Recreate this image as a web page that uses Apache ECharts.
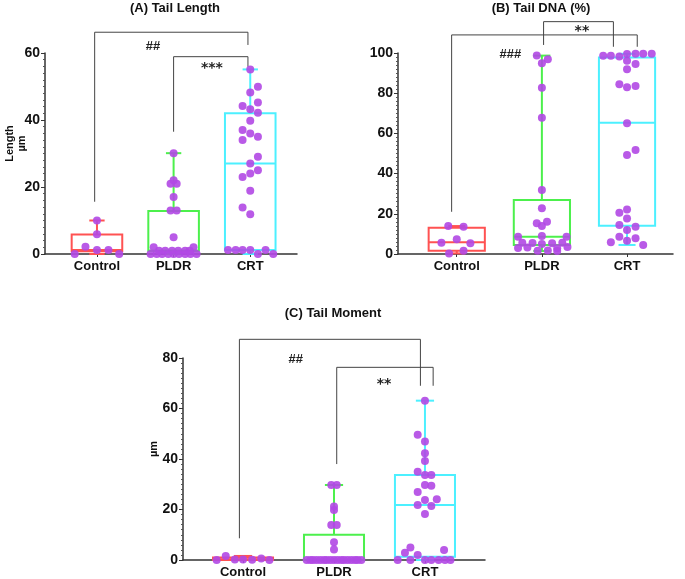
<!DOCTYPE html>
<html>
<head>
<meta charset="utf-8">
<script src="https://cdn.jsdelivr.net/npm/echarts@6/dist/echarts.min.js"></script>
<style>
  html, body { margin: 0; padding: 0; background: #fff; }
  #chart { width: 685px; height: 579px; }
</style>
</head>
<body>
<div id="chart"></div>
<script>
const groups = ['Control', 'PLDR', 'CRT'];
const boxColors = ['#ff5252', '#4cf04c', '#4cf0ff'];
const dotColor = '#b148e4';
const FONT = '"Liberation Sans", Arial, sans-serif';

// points: [horizontal spread inside the group, value]
const lengthControl = [[0, 10], [0, 5.9], [-0.15, 2.2], [0, 1.2], [0.15, 1.2], [-0.29, 0], [0.29, 0]];
const lengthPLDR = [[0, 30.1], [0, 22], [-0.04, 21], [0.04, 21], [0, 17], [-0.04, 13], [0.04, 13], [0, 5],
  [-0.26, 2], [0.26, 2], [-0.19, 1], [-0.11, 1], [-0.02, 1], [0.06, 1], [0.15, 1], [0.21, 1],
  [-0.3, 0], [-0.22, 0], [-0.15, 0], [-0.07, 0], [0, 0], [0.07, 0], [0.15, 0], [0.22, 0], [0.3, 0]];
const lengthCRT = [[0, 55.1], [0.1, 49.9], [0, 48.2], [-0.1, 44.2], [0, 43.2], [0.1, 45.2], [0.1, 42.2],
  [0, 39.8], [-0.1, 37], [0, 36], [-0.1, 34], [0.1, 35], [0.1, 29], [0, 27], [-0.1, 23], [0, 24], [0.1, 25],
  [0, 18.9], [-0.1, 13.9], [0, 11.9], [-0.29, 1.2], [-0.19, 1.2], [-0.1, 1.2], [0, 1.2], [0.2, 1.2], [0.1, 0], [0.3, 0]];

const dnaControl = [[-0.1, 13.9], [0.08, 13.6], [-0.18, 5.6], [0, 7.3], [0.16, 5.3], [-0.09, 0.3], [0.08, 1.6]];
const dnaPLDR = [[-0.06, 98.7], [0.07, 96.9], [0, 94.9], [0, 82.7], [0, 67.8], [0, 31.8], [0, 22.7],
  [-0.06, 15.3], [0.06, 16.1], [0, 13.9], [-0.28, 8.6], [0, 9], [0.29, 8.6], [-0.23, 5.6], [-0.11, 5.5],
  [0, 5], [0.12, 5.3], [0.24, 5.6], [-0.28, 3], [-0.17, 3.2], [0.18, 2.9], [0.3, 3.5], [-0.05, 1.6], [0.07, 1.8], [0.18, 1.5]];
const dnaCRT = [[-0.28, 98.6], [-0.19, 98.6], [-0.09, 98.2], [0, 99.5], [0.1, 99.6], [0.19, 99.6], [0.29, 99.6],
  [0, 96.2], [0.1, 94.5], [0, 91.9], [-0.09, 84.4], [0, 82.9], [0.1, 83.6], [0, 65], [0.1, 51.7], [0, 49.3],
  [0, 22.2], [-0.09, 20.5], [0, 17.7], [-0.09, 14.4], [0.1, 13.6], [0, 11.9], [-0.09, 8.6], [0.1, 7.8],
  [-0.19, 5.8], [0, 6.6], [0.19, 4.5]];

const momentControl = [[-0.29, 0], [-0.19, 1.6], [-0.09, 0.2], [0, 0.2], [0.1, 0.1], [0.2, 0.6], [0.29, 0]];
const momentPLDR = [[-0.03, 29.7], [0.03, 29.7], [0, 21.2], [0, 19.8], [-0.03, 13.9], [0.03, 13.9], [0, 7], [0, 4.2],
  [-0.3, 0], [-0.26, 0], [-0.23, 0], [-0.19, 0], [-0.15, 0], [-0.11, 0], [-0.08, 0], [-0.04, 0], [0, 0],
  [0.04, 0], [0.08, 0], [0.11, 0], [0.15, 0], [0.19, 0], [0.23, 0], [0.26, 0], [0.3, 0]];
const momentCRT = [[0, 63.1], [-0.08, 49.6], [0, 46.9], [0, 42.3], [0, 39.2], [-0.08, 35], [0, 33.7], [0.07, 33.7],
  [0, 29.7], [0.07, 29.4], [-0.08, 26.9], [0, 23.8], [0.13, 24.1], [-0.08, 21.8], [0.07, 21.4], [0, 18.2],
  [-0.22, 2.9], [-0.16, 5], [-0.08, 2], [0.21, 4], [-0.3, 0], [-0.16, 0], [0, 0], [0.07, 0], [0.15, 0], [0.22, 0], [0.28, 0]];

// box stats: [min, q1, median, q3, max]
const lengthBox = [[0, 0.8, 1.2, 5.8, 10], [0, 1, 1, 12.8, 30.1], [0, 1.2, 27, 42, 55.1]];
const dnaBox = [[0.3, 1.6, 5.8, 13.1, 13.9], [1.5, 4.5, 8.6, 26.9, 98.7], [4.5, 14, 65.3, 97.8, 99.6]];
const momentBox = [[0, 0, 0.3, 1, 1.6], [0, 0, 0, 10, 29.7], [0, 1.3, 21.8, 33.7, 63.1]];

// brackets: [x from, x to, top, left end, right end]
const lengthBrackets = [[-0.03, 1.97, 66.2, 15.6, 62.4], [1, 1.97, 58.9, 36.5, 55.9]];
const lengthMarks = ['##', '***'];
const lengthMarkAt = [[0.73, 62], [1.5, 55.5]];
const dnaBrackets = [[-0.06, 2.12, 109, 21, 103.1], [1.02, 1.84, 115.6, 104, 103.1]];
const dnaMarks = ['###', '**'];
const dnaMarkAt = [[0.63, 99.5], [1.47, 111]];
const momentBrackets = [[-0.04, 1.95, 87.4, 8.6, 69], [1.03, 2.09, 76.3, 38, 69]];
const momentMarks = ['##', '**'];
const momentMarkAt = [[0.58, 79.6], [1.55, 69.7]];

const yTicks = { length: 20, dna: 20, moment: 20 };

const panels = [
  { title: '(A) Tail Length', titleAt: [175, 8], grid: { left: 45, top: 53, width: 252, height: 201 },
    xMin: -0.678, xMax: 2.61, yMax: 60, yStep: yTicks.length, yName: 'Length\nµm', nameGap: 17,
    box: lengthBox, points: [lengthControl, lengthPLDR, lengthCRT],
    brackets: lengthBrackets, marks: lengthMarks, markAt: lengthMarkAt },
  { title: '(B) Tail DNA (%)', titleAt: [541, 8], grid: { left: 398, top: 53, width: 275, height: 201 },
    xMin: -0.69, xMax: 2.54, yMax: 100, yStep: yTicks.dna, yName: '', nameGap: 29,
    box: dnaBox, points: [dnaControl, dnaPLDR, dnaCRT],
    brackets: dnaBrackets, marks: dnaMarks, markAt: dnaMarkAt },
  { title: '(C) Tail Moment', titleAt: [333, 313], grid: { left: 183, top: 358, width: 302, height: 202 },
    xMin: -0.66, xMax: 2.66, yMax: 80, yStep: yTicks.moment, yName: 'µm', nameGap: 23,
    box: momentBox, points: [momentControl, momentPLDR, momentCRT],
    brackets: momentBrackets, marks: momentMarks, markAt: momentMarkAt }
];

const boxWidth = 0.66;
const capWidth = 0.2;

function renderBox(params, api) {
  const i = api.value(0);
  const half = api.size([boxWidth, 0])[0] / 2;
  const cap = api.size([capWidth, 0])[0] / 2;
  const cx = api.coord([i, 0])[0];
  const y = k => api.coord([i, api.value(k)])[1];
  const low = y(1), q1 = y(2), med = y(3), q3 = y(4), high = y(5);
  const st = { stroke: boxColors[i], lineWidth: 2, fill: 'transparent' };
  return {
    type: 'group',
    children: [
      { type: 'line', shape: { x1: cx, y1: q3, x2: cx, y2: high }, style: st },
      { type: 'line', shape: { x1: cx, y1: q1, x2: cx, y2: low }, style: st },
      { type: 'line', shape: { x1: cx - cap, y1: high, x2: cx + cap, y2: high }, style: st },
      { type: 'line', shape: { x1: cx - cap, y1: low, x2: cx + cap, y2: low }, style: st },
      { type: 'rect', shape: { x: cx - half, y: q3, width: half * 2, height: q1 - q3 }, style: st },
      { type: 'line', shape: { x1: cx - half, y1: med, x2: cx + half, y2: med }, style: st }
    ]
  };
}

function bracketRenderer(marks, markAt) {
  return function (params, api) {
    const x1 = api.value(0), x2 = api.value(1), top = api.value(2);
    const a = api.coord([x1, api.value(3)]);
    const b = api.coord([x1, top]);
    const c = api.coord([x2, top]);
    const d = api.coord([x2, api.value(4)]);
    const t = api.coord(markAt[params.dataIndex]);
    const mark = marks[params.dataIndex];
    // the stars are wide in the original, the hashes are not
    const font = mark.indexOf('#') >= 0 ? 'bold 13px ' + FONT : 'bold 14px "DejaVu Sans", ' + FONT;
    return {
      type: 'group',
      children: [
        { type: 'polyline', shape: { points: [a, b, c, d] }, style: { stroke: '#444', lineWidth: 1, fill: null } },
        { type: 'text', style: { text: mark, x: t[0], y: t[1], align: 'center', verticalAlign: 'middle', font: font, fill: '#222' } }
      ]
    };
  };
}

const option = {
  animation: false,
  backgroundColor: '#fff',
  graphic: panels.map(p => ({
    type: 'text', x: p.titleAt[0], y: p.titleAt[1],
    style: { text: p.title, align: 'center', verticalAlign: 'middle', font: 'bold 13px ' + FONT, fill: '#111' }
  })),
  grid: panels.map(p => Object.assign({ outerBoundsMode: 'none' }, p.grid)),
  xAxis: panels.map((p, k) => ({
    type: 'value', gridIndex: k, min: p.xMin, max: p.xMax,
    splitLine: { show: false },
    axisLine: { onZero: false, lineStyle: { color: '#333', width: 1.5 } },
    axisTick: { customValues: [0, 1, 2], length: 3, lineStyle: { color: '#333' } },
    axisLabel: { customValues: [0, 1, 2], formatter: v => groups[Math.round(v)], margin: 6,
      fontFamily: FONT, fontWeight: 'bold', fontSize: 13, color: '#111' }
  })),
  yAxis: panels.map((p, k) => ({
    type: 'value', gridIndex: k, min: 0, max: p.yMax, interval: p.yStep,
    name: p.yName, nameLocation: 'middle', nameRotate: 90, nameGap: p.nameGap, nameMoveOverlap: false,
    nameTextStyle: { fontFamily: FONT, fontWeight: 'bold', fontSize: 11, lineHeight: 12, color: '#111', padding: [0, 0, 0, 20] },
    splitLine: { show: false },
    axisLine: { show: true, onZero: false, lineStyle: { color: '#333', width: 1.5 } },
    axisTick: { show: true, length: 4, lineStyle: { color: '#333' } },
    minorTick: { show: true, splitNumber: 10, length: 2, lineStyle: { color: '#555' } },
    axisLabel: { margin: 5, fontFamily: FONT, fontWeight: 'bold', fontSize: 14, color: '#111' }
  })),
  series: []
};

panels.forEach((p, k) => {
  option.series.push({
    type: 'custom', xAxisIndex: k, yAxisIndex: k, clip: false, z: 2,
    encode: { x: 0, y: [1, 2, 3, 4, 5] },
    data: p.box.map((s, i) => [i].concat(s)),
    renderItem: renderBox
  });
  option.series.push({
    type: 'scatter', xAxisIndex: k, yAxisIndex: k, clip: false, z: 3,
    symbolSize: 8,
    itemStyle: { color: dotColor, opacity: 0.9 },
    data: p.points.flatMap((g, i) => g.map(d => [i + d[0], d[1]]))
  });
  option.series.push({
    type: 'custom', xAxisIndex: k, yAxisIndex: k, clip: false, z: 1,
    encode: { x: [0, 1], y: [2, 3, 4] },
    data: p.brackets,
    renderItem: bracketRenderer(p.marks, p.markAt)
  });
});

const chart = echarts.init(document.getElementById('chart'), null, { renderer: 'canvas' });
chart.setOption(option);
</script>
</body>
</html>
